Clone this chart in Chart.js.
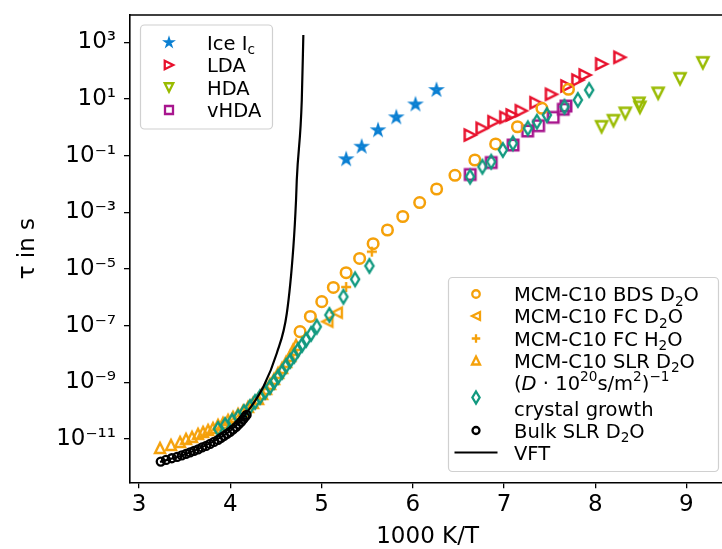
<!DOCTYPE html>
<html>
<head>
<meta charset="utf-8">
<script src="https://cdn.jsdelivr.net/npm/chart.js@4.4.1/dist/chart.umd.min.js"></script>
<style>
  html, body { margin: 0; padding: 0; background: #fff; overflow: hidden; width: 722px; height: 549px; }
</style>
</head>
<body>
<canvas id="tauChart" width="733" height="549"></canvas>
<script>
// Données (x = 1000 K/T, tau en s)
const iceX = [5.27, 5.44, 5.62, 5.82, 6.03, 6.26];
const iceTau = [0.0746, 0.207, 0.787, 2.26, 6.40, 20.7];

const ldaX = [6.63, 6.76, 6.89, 7.02, 7.09, 7.19, 7.35, 7.52, 7.69, 7.81, 7.89, 8.07, 8.27];
const ldaTau = [0.537, 0.925, 1.58, 2.26, 2.73, 3.86, 7.40, 14.7, 28.8, 46.8, 70.3, 172, 296];

const hdaX = [8.07, 8.20, 8.33, 8.48, 8.49, 8.69, 8.93, 9.18];
const hdaTau = [1.05, 1.72, 3.13, 7.05, 5.09, 15.9, 52.0, 190];

const vhdaX = [6.63, 6.86, 7.10, 7.26, 7.38, 7.54, 7.65, 7.68];
const vhdaTau = [0.0217, 0.0575, 0.238, 0.743, 1.14, 2.26, 4.34, 5.66];

const bdsX = [4.765, 4.878, 5.003, 5.130, 5.270, 5.418, 5.566, 5.723, 5.891, 6.076, 6.262, 6.463, 6.681, 6.909, 7.148, 7.416, 7.707];
const bdsTau = [6.19e-8, 2.13e-7, 7.08e-7, 2.24e-6, 7.46e-6, 2.37e-5, 7.87e-5, 2.39e-4, 7.16e-4, 2.23e-3, 6.68e-3, 0.0204, 0.0705, 0.259, 1.05, 4.70, 22.0];

const fcD2oX = [5.065, 5.168];
const fcD2oTau = [1.40e-7, 2.90e-7];

const fcH2oX = [5.270, 5.552];
const fcH2oTau = [2.33e-6, 4.11e-5];

const slrX = [3.230, 3.351, 3.450, 3.515, 3.581, 3.647, 3.702, 3.757, 3.811, 3.866, 3.921, 3.976, 4.031, 4.086,
    4.140, 4.195, 4.250, 4.305, 4.349, 4.393, 4.436, 4.480, 4.524, 4.568, 4.612, 4.656, 4.689, 4.721];
const slrTau = [4.89e-12, 6.24e-12, 7.96e-12, 1.02e-11, 1.20e-11, 1.53e-11, 1.79e-11, 2.11e-11, 2.48e-11, 3.17e-11,
    3.73e-11, 4.76e-11, 6.08e-11, 7.76e-11, 9.91e-11, 1.37e-10, 1.90e-10, 2.62e-10, 3.94e-10, 5.92e-10, 8.87e-10,
    1.33e-9, 2.17e-9, 3.26e-9, 5.31e-9, 8.63e-9, 1.41e-8, 2.11e-8];

const crystalX = [3.866, 3.943, 4.020, 4.086, 4.151, 4.217, 4.272, 4.327, 4.382, 4.436, 4.480, 4.524, 4.568, 4.612,
    4.656, 4.700, 4.743, 4.787, 4.831, 4.886, 4.948, 5.087, 5.240, 5.368, 5.525,
    6.629, 6.764, 6.860, 6.988, 7.098, 7.262, 7.361, 7.470, 7.663, 7.810, 7.934];
const crystalTau = [2.29e-11, 3.17e-11, 4.39e-11, 6.08e-11, 9.12e-11, 1.37e-10, 2.06e-10, 3.08e-10, 4.63e-10, 6.95e-10,
    1.04e-9, 1.57e-9, 2.35e-9, 3.83e-9, 5.73e-9, 8.61e-9, 1.40e-8, 2.11e-8, 3.16e-8, 5.15e-8, 9.29e-8, 2.40e-7,
    1.06e-6, 4.37e-6, 1.29e-5, 0.0182, 0.0409, 0.0614, 0.159, 0.274, 0.925, 1.58, 2.73, 5.35, 9.23, 20.7];

const bulkX = [3.238, 3.296, 3.359, 3.417, 3.468, 3.515, 3.559, 3.603, 3.647, 3.691, 3.735, 3.779, 3.822, 3.866,
    3.899, 3.932, 3.965, 3.998, 4.031, 4.064, 4.091, 4.118, 4.140, 4.162, 4.179];
const bulkTau = [1.61e-12, 1.85e-12, 2.12e-12, 2.36e-12, 2.66e-12, 3.01e-12, 3.40e-12, 3.84e-12, 4.34e-12, 5.10e-12,
    5.75e-12, 6.78e-12, 7.96e-12, 9.38e-12, 1.10e-11, 1.30e-11, 1.53e-11, 1.79e-11, 2.20e-11, 2.69e-11, 3.30e-11,
    4.05e-11, 4.95e-11, 6.07e-11, 7.14e-11];

const vftX = [3.23, 3.47, 3.78, 4.02, 4.16, 4.363, 4.51, 4.62, 4.692, 4.721, 4.729, 4.784, 4.801];
const vftTau = [1.58e-12, 2.63e-12, 7.24e-12, 2.24e-11, 7.08e-11, 7.11e-10, 1.07e-8, 2.76e-7, 6.17e-5, 2.73e-3, 0.0139, 9.23, 1807];

// Graduations
const xTicks = [3, 4, 5, 6, 7, 8, 9];
const xTickLabels = ['3', '4', '5', '6', '7', '8', '9'];
const yTicks = [1e-11, 1e-9, 1e-7, 1e-5, 1e-3, 1e-1, 1e1, 1e3];
const yTickLabels = ['10⁻¹¹', '10⁻⁹', '10⁻⁷', '10⁻⁵', '10⁻³', '10⁻¹', '10¹', '10³'];

// Légendes (texte enrichi : sub / sup / it)
const legendTopLabels = [
    [['Ice I'], ['c', 'sub']],
    [['LDA']],
    [['HDA']],
    [['vHDA']]
];
const legendBottomLabels = [
    [['MCM-C10 BDS D'], ['2', 'sub'], ['O']],
    [['MCM-C10 FC D'], ['2', 'sub'], ['O']],
    [['MCM-C10 FC H'], ['2', 'sub'], ['O']],
    [['MCM-C10 SLR D'], ['2', 'sub'], ['O']],
    [['('], ['D', 'it'], [' · 10'], ['20', 'sup'], ['s/m'], ['2', 'sup'], [')'], ['−1', 'sup']],
    [['crystal growth']],
    [['Bulk SLR D'], ['2', 'sub'], ['O']],
    [['VFT']]
];

const FONT = '"DejaVu Sans"';
const colors = {
    ice: '#0a7fd2',
    lda: '#e8102c',
    hda: '#99bb00',
    vhda: '#a8168e',
    mcm: '#f5a10a',
    crystal: '#11997f',
    bulk: '#000000'
};

// Dessin des marqueurs
function drawMarker(g, shape, x, y, size, color, lw) {
    const r = size / 2;
    g.save();
    g.translate(x, y);
    g.strokeStyle = color;
    g.lineWidth = lw;
    g.lineJoin = 'miter';
    g.beginPath();
    if (shape === 'circle') {
        g.arc(0, 0, r, 0, Math.PI * 2);
    } else if (shape === 'square') {
        g.rect(-r, -r, 2 * r, 2 * r);
    } else if (shape === 'up') {
        g.moveTo(0, -r); g.lineTo(r, r); g.lineTo(-r, r); g.closePath();
    } else if (shape === 'down') {
        g.moveTo(0, r); g.lineTo(-r, -r); g.lineTo(r, -r); g.closePath();
    } else if (shape === 'right') {
        g.moveTo(r, 0); g.lineTo(-r, -r); g.lineTo(-r, r); g.closePath();
    } else if (shape === 'left') {
        g.moveTo(-r, 0); g.lineTo(r, r); g.lineTo(r, -r); g.closePath();
    } else if (shape === 'thin') {
        g.moveTo(0, -r); g.lineTo(0.6 * r, 0); g.lineTo(0, r); g.lineTo(-0.6 * r, 0); g.closePath();
    } else if (shape === 'plus') {
        g.moveTo(-r, 0); g.lineTo(r, 0); g.moveTo(0, -r); g.lineTo(0, r);
    } else if (shape === 'star') {
        for (let k = 0; k < 10; k++) {
            const a = -Math.PI / 2 + k * Math.PI / 5;
            const rr = k % 2 ? r * 0.382 : r;
            if (k === 0) g.moveTo(rr * Math.cos(a), rr * Math.sin(a));
            else g.lineTo(rr * Math.cos(a), rr * Math.sin(a));
        }
        g.closePath();
    } else if (shape === 'line') {
        g.moveTo(-r, 0); g.lineTo(r, 0);
    }
    g.stroke();
    g.restore();
}

function markerCanvas(shape, size, color, lw) {
    const d = 2 * Math.ceil((size + 2 * lw + 4) / 2);
    const c = document.createElement('canvas');
    c.width = d;
    c.height = d;
    drawMarker(c.getContext('2d'), shape, d / 2, d / 2, size, color, lw);
    return c;
}

function pts(xs, ys) {
    return xs.map((x, i) => ({ x: x, y: ys[i] }));
}

function scatterSet(label, xs, ys, shape, size, color, lw) {
    return {
        label: label,
        data: pts(xs, ys),
        showLine: false,
        pointStyle: markerCanvas(shape, size, color, lw),
        pointRadius: 6,
        pointHoverRadius: 6
    };
}

function circleSet(label, xs, ys, radius, color, lw) {
    return {
        label: label,
        data: pts(xs, ys),
        showLine: false,
        pointStyle: 'circle',
        pointRadius: radius,
        pointHoverRadius: radius,
        borderWidth: lw,
        borderColor: color,
        backgroundColor: 'rgba(0,0,0,0)'
    };
}

const datasets = [
    scatterSet('Ice Ic', iceX, iceTau, 'star', 9.5, colors.ice, 2.5),
    scatterSet('LDA', ldaX, ldaTau, 'right', 11, colors.lda, 2.5),
    scatterSet('HDA', hdaX, hdaTau, 'down', 11, colors.hda, 2.5),
    scatterSet('vHDA', vhdaX, vhdaTau, 'square', 10.5, colors.vhda, 2.5),
    circleSet('MCM-C10 BDS D2O', bdsX, bdsTau, 5.3, colors.mcm, 2.5),
    scatterSet('MCM-C10 FC D2O', fcD2oX, fcD2oTau, 'left', 10, colors.mcm, 2.4),
    scatterSet('MCM-C10 FC H2O', fcH2oX, fcH2oTau, 'plus', 10, colors.mcm, 2.4),
    scatterSet('MCM-C10 SLR D2O', slrX, slrTau, 'up', 10, colors.mcm, 2.4),
    scatterSet('crystal growth', crystalX, crystalTau, 'thin', 13.5, colors.crystal, 2.4),
    circleSet('Bulk SLR D2O', bulkX, bulkTau, 4, colors.bulk, 2.3),
    {
        label: 'VFT',
        data: pts(vftX, vftTau),
        showLine: true,
        pointRadius: 0,
        borderColor: '#000',
        borderWidth: 2.2,
        cubicInterpolationMode: 'monotone'
    }
];
datasets.forEach((d, i) => { d.order = datasets.length - i; });

// Texte avec indices / exposants
function drawRich(ctx, parts, x, yMid, fs) {
    let cx = x;
    const base = yMid + 0.36 * fs;
    ctx.textBaseline = 'alphabetic';
    ctx.textAlign = 'left';
    ctx.fillStyle = '#000';
    parts.forEach(p => {
        const txt = p[0];
        const kind = p[1];
        let size = fs;
        let dy = 0;
        let style = '';
        if (kind === 'sub') { size = fs * 0.7; dy = fs * 0.24; }
        if (kind === 'sup') { size = fs * 0.7; dy = -fs * 0.42; }
        if (kind === 'it') style = 'italic ';
        ctx.font = style + size + 'px ' + FONT;
        ctx.fillText(txt, cx, base + dy);
        cx += ctx.measureText(txt).width;
    });
}

function roundRect(ctx, x, y, w, h, r) {
    ctx.beginPath();
    ctx.moveTo(x + r, y);
    ctx.lineTo(x + w - r, y);
    ctx.arcTo(x + w, y, x + w, y + r, r);
    ctx.lineTo(x + w, y + h - r);
    ctx.arcTo(x + w, y + h, x + w - r, y + h, r);
    ctx.lineTo(x + r, y + h);
    ctx.arcTo(x, y + h, x, y + h - r, r);
    ctx.lineTo(x, y + r);
    ctx.arcTo(x, y, x + r, y, r);
    ctx.closePath();
}

const legendBoxes = [
    {
        box: [140.5, 25, 132, 104],
        markerX: 169, textX: 207,
        rows: [
            { y: 42.5, label: 0, shape: 'star', size: 7.5, color: colors.ice, lw: 2.2 },
            { y: 65, label: 1, shape: 'right', size: 8.5, color: colors.lda, lw: 2.3 },
            { y: 87.5, label: 2, shape: 'down', size: 8.5, color: colors.hda, lw: 2.3 },
            { y: 110, label: 3, shape: 'square', size: 8, color: colors.vhda, lw: 2.3 }
        ],
        labels: legendTopLabels
    },
    {
        box: [448.5, 277.5, 270, 194],
        markerX: 476, textX: 514,
        rows: [
            { y: 294, label: 0, shape: 'circle', size: 7.5, color: colors.mcm, lw: 2.3 },
            { y: 316, label: 1, shape: 'left', size: 8, color: colors.mcm, lw: 2.3 },
            { y: 338.5, label: 2, shape: 'plus', size: 8.5, color: colors.mcm, lw: 2.3 },
            { y: 360.5, label: 3, shape: 'up', size: 8, color: colors.mcm, lw: 2.3 },
            { y: 382.5, label: 4 },
            { y: 397.5, shape: 'thin', size: 12, color: colors.crystal, lw: 2.3 },
            { y: 408.5, label: 5 },
            { y: 430.5, label: 6, shape: 'circle', size: 7, color: colors.bulk, lw: 2.3 },
            { y: 452.5, label: 7, shape: 'line', size: 43, color: '#000', lw: 2.2 }
        ],
        labels: legendBottomLabels
    }
];

const legendPlugin = {
    id: 'boxLegends',
    afterDraw(chart) {
        const ctx = chart.ctx;
        const area = chart.chartArea;
        ctx.save();
        // cadre du haut et de droite
        ctx.strokeStyle = '#000';
        ctx.lineWidth = 1.6;
        ctx.beginPath();
        ctx.moveTo(area.left - 0.8, area.top);
        ctx.lineTo(area.right, area.top);
        ctx.lineTo(area.right, area.bottom);
        ctx.stroke();

        legendBoxes.forEach(lg => {
            const b = lg.box;
            roundRect(ctx, b[0], b[1], b[2], b[3], 4);
            ctx.fillStyle = 'rgba(255,255,255,0.8)';
            ctx.fill();
            ctx.strokeStyle = '#d0d0d0';
            ctx.lineWidth = 1.2;
            ctx.stroke();
            lg.rows.forEach(r => {
                if (r.shape) {
                    drawMarker(ctx, r.shape, lg.markerX, r.y, r.size, r.color, r.lw);
                }
                if (r.label !== undefined) {
                    drawRich(ctx, lg.labels[r.label], lg.textX, r.y, 19.5);
                }
            });
        });
        ctx.restore();
    }
};

const tickFont = { family: FONT, size: 23 };

new Chart(document.getElementById('tauChart'), {
    type: 'scatter',
    data: { datasets: datasets },
    options: {
        responsive: false,
        animation: false,
        layout: { padding: { top: 15, left: 0, right: 0, bottom: 0 } },
        plugins: {
            legend: { display: false },
            tooltip: { enabled: false }
        },
        scales: {
            x: {
                type: 'linear',
                min: 2.901,
                max: 9.425,
                afterBuildTicks: s => { s.ticks = xTicks.map(v => ({ value: v })); },
                afterFit: s => { s.height = 66.7; s.paddingLeft = 0; s.paddingRight = 0; },
                ticks: {
                    autoSkip: false,
                    maxRotation: 0,
                    padding: 3,
                    color: '#000',
                    font: tickFont,
                    callback: (v, i) => xTickLabels[i]
                },
                grid: { drawOnChartArea: false, tickLength: 6, color: '#000', lineWidth: 1.3 },
                border: { color: '#000', width: 1.6 },
                title: {
                    display: true,
                    text: '1000 K/T',
                    color: '#000',
                    font: { family: FONT, size: 23, lineHeight: 1 },
                    padding: { top: 0, bottom: 0 }
                }
            },
            y: {
                type: 'logarithmic',
                min: 3.0e-13,
                max: 9.2e3,
                afterBuildTicks: s => { s.ticks = yTicks.map(v => ({ value: v })); },
                afterFit: s => { s.width = 130; s.paddingTop = 0; s.paddingBottom = 0; },
                ticks: {
                    autoSkip: false,
                    padding: 8,
                    color: '#000',
                    font: tickFont,
                    callback: (v, i) => yTickLabels[i]
                },
                grid: { drawOnChartArea: false, tickLength: 6, color: '#000', lineWidth: 1.3 },
                border: { color: '#000', width: 1.6 },
                title: {
                    display: true,
                    text: 'τ in s',
                    color: '#000',
                    font: { family: FONT, size: 23 },
                    padding: { top: 14, bottom: 0 }
                }
            }
        }
    },
    plugins: [legendPlugin]
});
</script>
</body>
</html>
